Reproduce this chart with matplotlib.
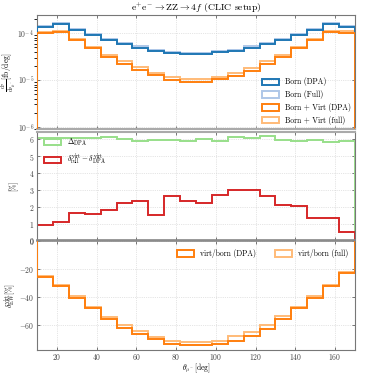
import numpy as np
import matplotlib
matplotlib.use('Agg')
import matplotlib.pyplot as plt
from matplotlib.patches import Patch

plt.rcParams['font.family'] = 'serif'
plt.rcParams['font.serif'] = ['cmr10', 'DejaVu Serif']
plt.rcParams['mathtext.fontset'] = 'cm'
plt.rcParams['axes.formatter.use_mathtext'] = True
plt.rcParams['axes.unicode_minus'] = True

# bin edges in theta_mu- [deg]
edges = np.arange(10, 171, 8)

# differential cross sections [fb/deg]
born_dpa = [1.38e-4, 1.57e-4, 1.18e-4, 0.92e-4, 0.71e-4, 0.586e-4, 0.49e-4, 0.417e-4, 0.378e-4, 0.354e-4,
            0.354e-4, 0.39e-4, 0.42e-4, 0.49e-4, 0.59e-4, 0.71e-4, 0.92e-4, 1.18e-4, 1.55e-4, 1.34e-4]
born_full = [1.45e-4, 1.66e-4, 1.25e-4, 0.97e-4, 0.75e-4, 0.62e-4, 0.52e-4, 0.44e-4, 0.40e-4, 0.375e-4,
             0.375e-4, 0.41e-4, 0.445e-4, 0.52e-4, 0.625e-4, 0.75e-4, 0.975e-4, 1.25e-4, 1.64e-4, 1.42e-4]
virt_dpa = [1.03e-4, 1.07e-4, 0.70e-4, 0.477e-4, 0.316e-4, 0.223e-4, 0.163e-4, 0.125e-4, 0.101e-4, 0.090e-4,
            0.092e-4, 0.103e-4, 0.121e-4, 0.158e-4, 0.219e-4, 0.314e-4, 0.477e-4, 0.702e-4, 1.05e-4, 1.03e-4]
virt_full = [1.08e-4, 1.14e-4, 0.76e-4, 0.513e-4, 0.344e-4, 0.249e-4, 0.185e-4, 0.139e-4, 0.115e-4, 0.104e-4,
             0.104e-4, 0.118e-4, 0.142e-4, 0.183e-4, 0.25e-4, 0.346e-4, 0.516e-4, 0.761e-4, 1.13e-4, 1.10e-4]

# relative differences [%]
delta_dpa = [6.06, 6.06, 6.06, 6.06, 6.13, 6.0, 5.9, 5.94, 5.94, 5.9,
             6.04, 5.9, 6.13, 6.06, 6.19, 5.94, 5.9, 5.94, 5.84, 5.9]
dvirt_diff = [0.93, 1.08, 1.64, 1.55, 1.82, 2.22, 2.32, 1.51, 2.61, 2.32,
              2.2, 2.71, 2.98, 3.02, 2.63, 2.09, 2.05, 1.35, 1.32, 0.5]

# virtual corrections [%]
ratio_dpa = [-25.6, -31.8, -40.7, -48.2, -55.5, -61.9, -66.8, -70.1, -73.4, -74.6,
             -74.1, -73.6, -71.3, -67.8, -62.8, -55.8, -48.2, -40.5, -32.2, -22.8]
ratio_full = [-25.2, -31.1, -39.3, -47.1, -54.1, -59.8, -64.5, -68.5, -71.3, -72.2,
              -72.2, -71.3, -68.2, -64.9, -60.0, -53.9, -47.1, -39.1, -31.1, -22.4]

c_blue, c_lblue = '#1f77b4', '#aec7e8'
c_orange, c_lorange = '#ff7f0e', '#ffbb78'
c_green, c_red = '#98df8a', '#d62728'
lw = 1.4


def box(color, label):
    # step-histogram style legend handle
    return Patch(facecolor='none', edgecolor=color, lw=lw, label=label)


fig = plt.figure(figsize=(3.74, 3.74), dpi=100)
ax1 = fig.add_axes([0.099, 0.654, 0.850, 0.306])
ax2 = fig.add_axes([0.099, 0.357, 0.850, 0.291], sharex=ax1)
ax3 = fig.add_axes([0.099, 0.064, 0.850, 0.291], sharex=ax1)

ax1.stairs(born_full, edges, baseline=0, color=c_lblue, lw=lw, zorder=2)
ax1.stairs(born_dpa, edges, baseline=0, color=c_blue, lw=lw, zorder=3)
ax1.stairs(virt_full, edges, baseline=0, color=c_lorange, lw=lw, zorder=2)
ax1.stairs(virt_dpa, edges, baseline=0, color=c_orange, lw=lw, zorder=3)
ax1.set_yscale('log')
ax1.set_ylim(0.88e-6, 2.45e-4)
ax1.set_ylabel(r'$\frac{\mathrm{d}\sigma}{\mathrm{d}\theta_{\mu^-}}$[fb/deg]', fontsize=5.5)
ax1.yaxis.set_label_coords(-0.06, 0.5)
ax1.set_title(r'$\mathrm{e^{+}e^{-}} \rightarrow \mathrm{ZZ} \rightarrow 4f$ (CLIC setup)', fontsize=7, pad=2)
ax1.legend(handles=[box(c_blue, 'Born (DPA)'), box(c_lblue, 'Born (Full)'),
                    box(c_orange, 'Born + Virt (DPA)'), box(c_lorange, 'Born + Virt (full)')],
           loc='lower right', fontsize=5.5, frameon=False, handlelength=2.2, handleheight=0.9,
           bbox_to_anchor=(1.01, -0.02))

ax2.stairs(delta_dpa, edges, baseline=0, color=c_green, lw=lw)
ax2.stairs(dvirt_diff, edges, baseline=0, color=c_red, lw=lw)
ax2.set_ylim(0, 6.45)
ax2.set_yticks(range(0, 7))
ax2.set_ylabel('[%]', fontsize=5.5)
ax2.yaxis.set_label_coords(-0.06, 0.5)
ax2.legend(handles=[box(c_green, r'$\Delta_{\rm DPA}$'),
                    box(c_red, r'$\delta^{\rm virt}_{\rm full}-\delta^{\rm virt}_{\rm DPA}$')],
           loc='upper left', fontsize=5.5, frameon=False, handlelength=2.2, handleheight=0.9,
           bbox_to_anchor=(0.0, 1.02))

ax3.stairs(ratio_full, edges, baseline=0, color=c_lorange, lw=lw, zorder=2)
ax3.stairs(ratio_dpa, edges, baseline=0, color=c_orange, lw=lw, zorder=3)
ax3.set_ylim(-78, 0)
ax3.set_yticks([0, -20, -40, -60])
ax3.set_ylabel(r'$\delta^{\rm virt}_{\rm EW}$[%]', fontsize=5.5)
ax3.yaxis.set_label_coords(-0.06, 0.5)
ax3.set_xlabel(r'$\theta_{\mu^-}$[deg]', fontsize=5.5, labelpad=-0.5)
ax3.legend(handles=[box(c_orange, 'virt/born (DPA)'), box(c_lorange, 'virt/born (full)')],
           loc='upper right', ncol=2, fontsize=5.5, frameon=False, handlelength=2.2,
           handleheight=0.9, columnspacing=2.5, bbox_to_anchor=(1.0, 0.99))
ax3.set_xlim(10, 170)
ax3.set_xticks(range(20, 161, 20))

for ax in (ax1, ax2, ax3):
    ax.grid(True, ls=':', lw=0.5, color='#cccccc')
    ax.tick_params(direction='in', top=True, right=True, labelsize=5.5,
                   colors='#444444', length=2.5, width=0.5, pad=2)
    for s in ax.spines.values():
        s.set_color('#777777')
        s.set_linewidth(0.8)
    ax.set_axisbelow(True)
ax3.tick_params(axis='x', pad=1.5)

for ax in (ax1, ax2):
    plt.setp(ax.get_xticklabels(), visible=False)

ax1.spines['bottom'].set_linewidth(1.5)
ax1.spines['bottom'].set_color('#aaaaaa')
ax2.spines['top'].set_linewidth(1.5)
ax2.spines['top'].set_color('#aaaaaa')
ax2.spines['bottom'].set_linewidth(1.2)
ax2.spines['bottom'].set_color('#888888')
ax3.spines['top'].set_linewidth(1.2)
ax3.spines['top'].set_color('#888888')

fig.savefig('out.png', dpi=100)
